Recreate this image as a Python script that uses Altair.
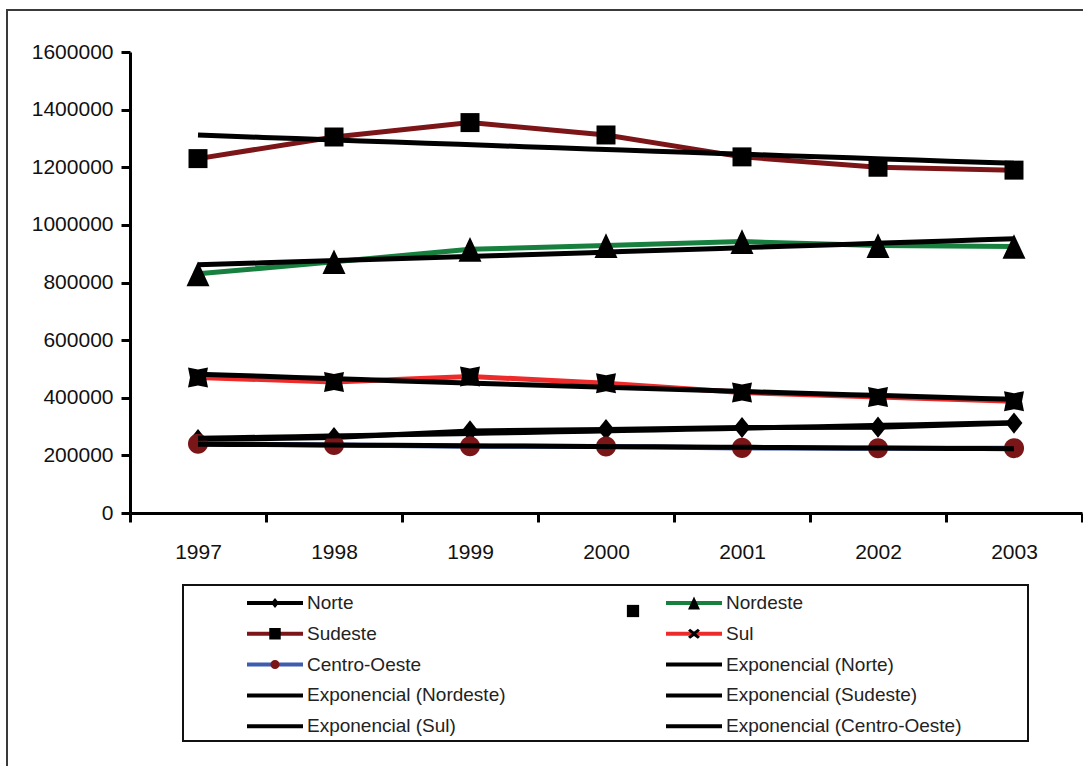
import altair as alt
import pandas as pd

# Anos e regiões
anos = [1997, 1998, 1999, 2000, 2001, 2002, 2003]
regioes = ["Norte", "Nordeste", "Sudeste", "Sul", "Centro-Oeste"]

# Valores por região
norte = [255000, 262000, 285000, 290000, 297000, 298000, 312000]
nordeste = [830000, 872000, 915000, 928000, 942000, 928000, 925000]
sudeste = [1230000, 1305000, 1355000, 1312000, 1236000, 1200000, 1190000]
sul = [470000, 455000, 474000, 450000, 418000, 403000, 388000]
centro_oeste = [240000, 236000, 232000, 231000, 226000, 225000, 225000]

valores_por_regiao = [norte, nordeste, sudeste, sul, centro_oeste]

tendencias = ["Exponencial (" + r + ")" for r in regioes]
entradas = regioes + tendencias
# chaves próprias para a legenda dos marcadores (sobreposta à das linhas)
chaves_marcadores = [e + "#" for e in entradas]

cores_linhas = ["#000000", "#17803f", "#7c1517", "#ee2b2b", "#3e5db1"] + ["#000000"] * 5
cores_marcadores = ["#000000", "#000000", "#000000", "#000000", "#7a1518"] + ["#000000"] * 5

# Símbolos (caminhos SVG); "M-1,0M1,0" fixa a largura da caixa do símbolo
extensao = "M-1,0M1,0"
simbolos = [
    extensao + "M0,-0.179L0.143,0L0,0.179L-0.143,0Z",  # losango
    extensao + "M0,-0.23L0.214,0.23L-0.214,0.23Z",  # triângulo
    extensao + "M-0.205,-0.205L0.205,-0.205L0.205,0.205L-0.205,0.205Z",  # quadrado
    extensao + "M-0.214,-0.105L-0.139,-0.18L0,-0.075L0.139,-0.18L0.214,-0.105"
    "L0.075,0L0.214,0.105L0.139,0.18L0,0.075L-0.139,0.18L-0.214,0.105L-0.075,0Z",  # xis
    extensao + "M-0.161,0A0.161,0.161 0 1,0 0.161,0A0.161,0.161 0 1,0 -0.161,0Z",  # círculo
] + [extensao] * 5
# área dos marcadores no gráfico, na ordem das regiões
tamanhos = [13830, 11540, 8580, 1, 15480]
xis_grosso = "M-1,-1L0,-0.8L1,-1L0.8,0L1,1L0,0.8L-1,1L-0.8,0Z"

linhas = []
for regiao, valores in zip(regioes, valores_por_regiao):
    for ano, v in zip(anos, valores):
        linhas.append({"ano": ano, "valor": v, "serie": regiao})
df = pd.DataFrame(linhas)

lista_regioes = "[" + ",".join("'" + r + "'" for r in regioes) + "]"

fonte = "Liberation Sans"
largura, altura = 952, 461

eixo_x = alt.X(
    "ano:Q",
    scale=alt.Scale(domain=[1996.5, 2003.5], nice=False, zero=False),
    axis=alt.Axis(
        values=[1996.5 + i for i in range(8)],
        labelExpr="datum.value < 2003 ? format(datum.value + 0.5, 'd') : ''",
        labelOffset=largura / 14,
        labelFlush=False,
        labelOverlap=False,
        labelPadding=19,
        labelFont=fonte,
        labelFontSize=21,
        labelColor="#111111",
        tickSize=9,
        tickWidth=3,
        tickColor="#000000",
        domainWidth=3,
        domainColor="#000000",
        grid=False,
        title=None,
    ),
)
eixo_y = alt.Y(
    "valor:Q",
    scale=alt.Scale(domain=[0, 1600000], nice=False),
    axis=alt.Axis(
        values=list(range(0, 1600001, 200000)),
        format="d",
        labelPadding=8,
        labelFont=fonte,
        labelFontSize=21,
        labelColor="#111111",
        tickSize=9,
        tickWidth=3,
        tickColor="#000000",
        domainWidth=3,
        domainColor="#000000",
        grid=False,
        title=None,
    ),
)

legenda_comum = dict(
    orient="none",
    legendX=115,
    legendY=541,
    columns=2,
    direction="horizontal",
    columnPadding=158,
    rowPadding=10.8,
    clipHeight=20,
    symbolSize=3136,
    symbolStrokeWidth=4,
    labelFont=fonte,
    labelFontSize=19,
    labelColor="#222222",
    labelOffset=2,
    labelLimit=400,
    padding=0,
    title=None,
)

traco = alt.Stroke(
    "serie:N",
    scale=alt.Scale(domain=entradas, range=cores_linhas),
    legend=alt.Legend(symbolType="stroke", zindex=1, **legenda_comum),
)

legenda_marcadores = alt.Legend(
    zindex=2,
    labelOpacity=0,
    labelExpr="replace(datum.label, '#', '')",
    symbolStrokeColor="transparent",
    **legenda_comum,
)

base = alt.Chart(df)

linhas_dados = base.mark_line(strokeWidth=5).encode(x=eixo_x, y=eixo_y, stroke=traco)

marcadores = (
    base.transform_filter("datum.serie != 'Sul'")
    .transform_calculate(
        marcador="datum.serie + '#'",
        ordem="indexof(" + lista_regioes + ", datum.serie)",
    )
    .mark_point(filled=True, opacity=1, strokeWidth=0)
    .encode(
        x=eixo_x,
        y=eixo_y,
        shape=alt.Shape(
            "marcador:N",
            scale=alt.Scale(domain=chaves_marcadores, range=simbolos),
            legend=legenda_marcadores,
        ),
        fill=alt.Fill(
            "marcador:N",
            scale=alt.Scale(domain=chaves_marcadores, range=cores_marcadores),
            legend=legenda_marcadores,
        ),
        size=alt.Size(
            "ordem:Q",
            scale=alt.Scale(type="threshold", domain=[0.5, 1.5, 2.5, 3.5], range=tamanhos),
            legend=None,
        ),
    )
)

marcadores_sul = (
    base.transform_filter("datum.serie == 'Sul'")
    .mark_point(filled=True, opacity=1, strokeWidth=0, shape=xis_grosso, size=400, color="#000000")
    .encode(x=eixo_x, y=eixo_y)
)

linhas_tendencia = (
    base.transform_regression("ano", "valor", method="exp", groupby=["serie"])
    .transform_calculate(serie="'Exponencial (' + datum.serie + ')'")
    .mark_line(strokeWidth=5)
    .encode(x=eixo_x, y=eixo_y, stroke=traco)
)

um = alt.Data(values=[{}])

moldura = alt.Chart(um).mark_rect(fill="transparent", stroke="#3a3a3a", strokeWidth=2).encode(
    x=alt.value(-123), x2=alt.value(962), y=alt.value(-42), y2=alt.value(726)
)
caixa_legenda = alt.Chart(um).mark_rect(fill="transparent", stroke="#111111", strokeWidth=2).encode(
    x=alt.value(53), x2=alt.value(898), y=alt.value(533), y2=alt.value(689)
)
quadrado_avulso = alt.Chart(um).mark_square(color="#000000", opacity=1, size=150).encode(
    x=alt.value(503), y=alt.value(559)
)

chart = (
    alt.layer(
        moldura,
        caixa_legenda,
        linhas_dados,
        marcadores,
        marcadores_sul,
        linhas_tendencia,
        quadrado_avulso,
    )
    .properties(
        width=largura,
        height=altura,
        autosize=alt.AutoSizeParams(type="none"),
        padding={"left": 130, "top": 52, "right": 1, "bottom": 253},
        background="#ffffff",
    )
    .configure_view(strokeWidth=0)
)

chart.save("out.html", embed_options={"renderer": "svg", "actions": False})
